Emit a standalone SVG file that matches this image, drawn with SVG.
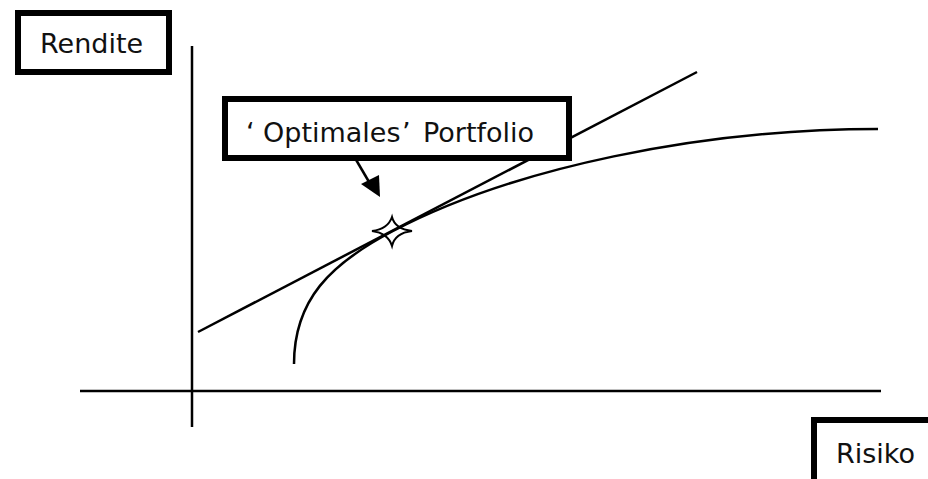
<svg xmlns="http://www.w3.org/2000/svg" width="928" height="479" viewBox="0 0 928 479">
<style>
.box{fill:#fff;stroke:#000;stroke-width:6}
.lbl{font-family:"DejaVu Sans",sans-serif;font-size:27px;fill:#111}
.ln{fill:none;stroke:#000;stroke-width:2.5}
</style>
<rect width="928" height="479" fill="#fff"/>
<g id="connectors">
<line class="ln" x1="192" y1="46" x2="192" y2="427"/>
<line class="ln" x1="80" y1="391" x2="881" y2="391"/>
<line class="ln" x1="198" y1="332" x2="697" y2="72"/>
<path class="ln" d="M294,364 C294,300 330,264 393,231 C513,168 700,129 878,129"/>
<line class="ln" x1="355" y1="158" x2="372" y2="187"/>
<path d="M361,184 L380,197 L379,175 Z" fill="#000"/>
</g>
<g id="rendite">
<rect class="box" x="18" y="13" width="151" height="59"/>
<text class="lbl" x="40" y="52.5">Rendite</text>
</g>
<g id="optimales">
<rect class="box" x="225" y="99" width="344" height="59"/>
<text class="lbl" y="141.5"><tspan x="246">‘</tspan><tspan x="263">Optimales</tspan><tspan x="402">’</tspan><tspan x="423">Portfolio</tspan></text>
</g>
<g id="risiko">
<rect class="box" x="814" y="420" width="130" height="70"/>
<text class="lbl" x="836" y="463">Risiko</text>
</g>
<g id="star">
<path d="M372,231 Q388,229 392,217 Q395,229 412,231 Q395,233 392,246 Q388,233 372,231 Z" fill="none" stroke="#000" stroke-width="2"/>
</g>
</svg>
